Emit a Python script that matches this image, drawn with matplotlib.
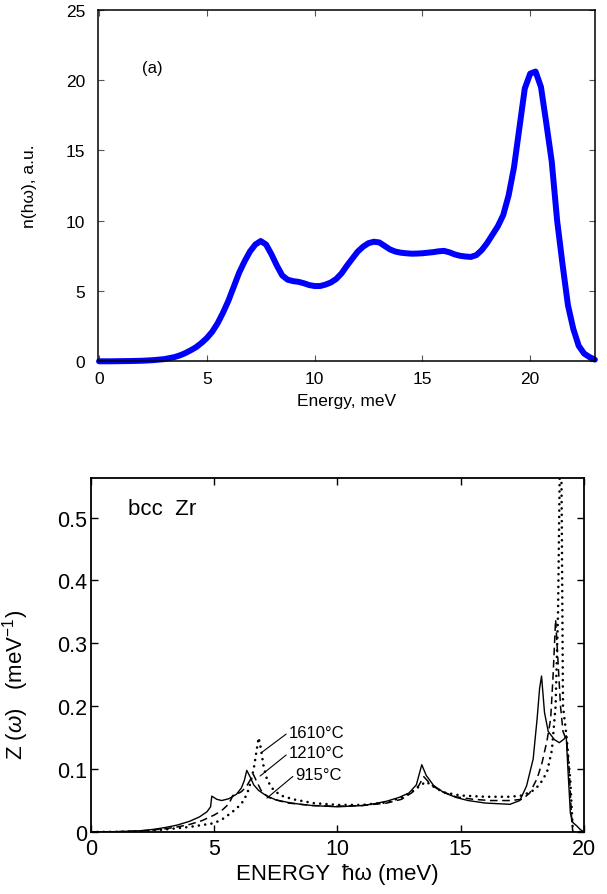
import matplotlib
matplotlib.use('Agg')
import matplotlib.pyplot as plt

plt.rcParams['font.family'] = ['Liberation Sans', 'DejaVu Sans']
plt.rcParams['mathtext.fontset'] = 'custom'
plt.rcParams['mathtext.rm'] = 'Liberation Sans'
plt.rcParams['mathtext.it'] = 'Liberation Sans:italic'

# ---- panel (a): n(hw) ----
energy_a = [0, 0.5, 1.0, 1.5, 2.0, 2.5, 3.0, 3.25, 3.5, 3.75, 4.0, 4.25, 4.5, 4.75,
            5.0, 5.25, 5.5, 5.75, 6.0, 6.25, 6.5, 6.75, 7.0, 7.25, 7.5, 7.75,
            8.0, 8.25, 8.5, 8.75, 9.0, 9.25, 9.5, 9.75, 10.0, 10.25, 10.5, 10.75,
            11.0, 11.25, 11.5, 11.75, 12.0, 12.25, 12.5, 12.75, 13.0, 13.25, 13.5,
            13.75, 14.0, 14.25, 14.5, 14.75, 15.0, 15.25, 15.5, 15.75, 16.0, 16.25,
            16.5, 16.75, 17.0, 17.25, 17.5, 17.75, 18.0, 18.25, 18.5, 18.75, 19.0,
            19.25, 19.5, 19.75, 20.0, 20.25, 20.5, 20.75, 21.0, 21.25, 21.5, 21.75,
            22.0, 22.25, 22.5, 22.75, 23.0]
n_a = [0.0, 0.0, 0.01, 0.02, 0.04, 0.08, 0.15, 0.22, 0.3, 0.42, 0.58, 0.78, 1.0, 1.3,
       1.65, 2.1, 2.7, 3.45, 4.3, 5.3, 6.3, 7.1, 7.8, 8.3, 8.55, 8.3,
       7.6, 6.8, 6.1, 5.8, 5.7, 5.65, 5.55, 5.42, 5.35, 5.35, 5.45, 5.6,
       5.85, 6.25, 6.8, 7.3, 7.8, 8.15, 8.4, 8.5, 8.45, 8.2, 7.95,
       7.8, 7.72, 7.68, 7.65, 7.66, 7.68, 7.72, 7.76, 7.82, 7.85, 7.75,
       7.6, 7.5, 7.45, 7.42, 7.55, 7.9, 8.4, 9.0, 9.6, 10.4, 11.8,
       13.8, 16.6, 19.4, 20.45, 20.6, 19.5, 16.9, 14.2, 10.0, 6.9, 4.0,
       2.3, 1.1, 0.55, 0.3, 0.12]

# ---- panel (b): Z(w) bcc Zr ----
e_915 = [0, 1, 2, 2.5, 3, 3.5, 4, 4.4, 4.7, 4.85, 4.9, 5.1, 5.3, 5.6, 5.9, 6.1, 6.22,
         6.32, 6.45, 6.6, 6.8, 7.1, 7.5, 8, 8.5, 9, 9.5, 10, 10.5, 11, 11.5, 12, 12.5,
         12.9, 13.2, 13.42, 13.6, 13.9, 14.3, 14.8, 15.3, 16, 16.5, 17, 17.4, 17.67,
         17.94, 18.1, 18.2, 18.28, 18.4, 18.55, 18.8, 19.0, 19.2, 19.28, 19.35, 19.45,
         19.55, 19.7, 19.85, 20]
z_915 = [0, 0.0005, 0.002, 0.004, 0.007, 0.011, 0.017, 0.024, 0.032, 0.04, 0.057, 0.052,
         0.05, 0.053, 0.06, 0.07, 0.082, 0.098, 0.088, 0.075, 0.066, 0.058, 0.051, 0.047,
         0.044, 0.042, 0.041, 0.04, 0.041, 0.042, 0.045, 0.049, 0.055, 0.062, 0.075, 0.107,
         0.09, 0.074, 0.063, 0.055, 0.05, 0.046, 0.045, 0.044, 0.05, 0.073, 0.116, 0.18,
         0.228, 0.248, 0.19, 0.16, 0.147, 0.142, 0.148, 0.153, 0.1, 0.03, 0.015, 0.01,
         0.004, 0.0]

e_1210 = [0, 1, 2, 3, 3.5, 4, 4.5, 5, 5.3, 5.6, 5.75, 5.9, 6.1, 6.3, 6.45, 6.58, 6.7,
          6.9, 7.2, 7.6, 8, 9, 10, 11, 12, 12.6, 13.0, 13.3, 13.5, 13.8, 14.2, 14.8,
          15.5, 16.2, 17, 17.5, 17.8, 18.1, 18.3, 18.5, 18.65, 18.75, 18.85, 18.95,
          19.05, 19.15, 19.3, 19.4, 19.5, 19.55, 20]
z_1210 = [0, 0.0003, 0.0015, 0.005, 0.008, 0.012, 0.018, 0.027, 0.034, 0.045, 0.058,
          0.06, 0.064, 0.072, 0.082, 0.092, 0.082, 0.066, 0.055, 0.05, 0.046, 0.042,
          0.041, 0.042, 0.046, 0.052, 0.062, 0.074, 0.088, 0.075, 0.065, 0.056, 0.052,
          0.05, 0.05, 0.052, 0.062, 0.085, 0.11, 0.145, 0.18, 0.25, 0.338, 0.27, 0.2,
          0.16, 0.145, 0.1, 0.02, 0.0, 0.0]

e_1610 = [0, 1, 2, 3, 4, 4.5, 5, 5.4, 5.9, 6.2, 6.4, 6.6, 6.72, 6.8, 6.88, 7.0, 7.15,
          7.4, 7.7, 8.2, 9, 10, 11, 12, 12.6, 13.0, 13.4, 13.6, 13.9, 14.3, 15, 16, 17,
          17.5, 17.9, 18.2, 18.5, 18.7, 18.85, 18.95, 19.02, 19.06, 19.1, 19.15, 19.3,
          19.45, 19.55, 20]
z_1610 = [0, 0.0003, 0.001, 0.004, 0.008, 0.011, 0.014, 0.022, 0.037, 0.05, 0.068, 0.1,
          0.13, 0.15, 0.135, 0.105, 0.082, 0.067, 0.058, 0.052, 0.046, 0.043, 0.043,
          0.047, 0.055, 0.063, 0.075, 0.08, 0.072, 0.063, 0.058, 0.056, 0.056, 0.058,
          0.065, 0.075, 0.095, 0.13, 0.2, 0.35, 0.58, 0.7, 0.5, 0.2, 0.15, 0.08, 0.0, 0.0]

labels_b = ['1610°C', '1210°C', '915°C']
label_pos = [(8.03, 0.159), (8.03, 0.126), (8.3, 0.092)]
label_tip = [(6.94, 0.127), (6.86, 0.089), (7.14, 0.054)]

fig = plt.figure(figsize=(6.07, 8.95), dpi=100)

# ===== top panel =====
ax1 = fig.add_axes([0.161, 0.5952, 0.819, 0.3929])
ax1.plot(energy_a, n_a, color='#0000ff', lw=4.3, solid_capstyle='round',
         solid_joinstyle='round', clip_on=False)
ax1.set_xlim(-0.06, 23)
ax1.set_ylim(0, 25)
ax1.set_xticks([0, 5, 10, 15, 20])
ax1.set_yticks([0, 5, 10, 15, 20, 25])
ax1.tick_params(direction='in', length=4, width=0.8, color='#555555',
                top=True, right=True, labelsize=12.5)
ax1.tick_params(axis='x', pad=7)
ax1.tick_params(axis='y', pad=9)
for s in ax1.spines.values():
    s.set_linewidth(1.1)
ax1.set_xlabel('Energy, meV', fontsize=12.5, labelpad=5)
ax1.set_ylabel('n(hω), a.u.', fontsize=12.5)
ax1.yaxis.set_label_coords(-0.122, 0.5)
ax1.text(2.46, 20.9, '(a)', fontsize=12, ha='center', va='center')

# ===== bottom panel =====
ax2 = fig.add_axes([0.150, 0.0693, 0.812, 0.3955])
ax2.plot(e_915, z_915, color='black', lw=1.0)
ax2.plot(e_1210, z_1210, color='black', lw=1.1, dashes=(5, 3))
ax2.plot(e_1610, z_1610, color='black', lw=1.9, dashes=(0.01, 2.4),
         dash_capstyle='round')
ax2.set_xlim(0, 20)
ax2.set_ylim(0, 0.563)
ax2.set_xticks([0, 5, 10, 15, 20])
ax2.set_yticks([0, 0.1, 0.2, 0.3, 0.4, 0.5])
ax2.set_yticklabels(['0', '0.1', '0.2', '0.3', '0.4', '0.5'])
ax2.tick_params(direction='in', length=5, width=1.0, top=True, right=True,
                labelsize=15.5)
ax2.tick_params(axis='x', pad=4)
ax2.tick_params(axis='y', pad=3)
for s in ax2.spines.values():
    s.set_linewidth(1.3)
ax2.set_xlabel('ENERGY  ħω (meV)', fontsize=16, labelpad=3)
ax2.set_ylabel('Z ($\\omega$)   (meV$^{-1}$)', fontsize=16)
ax2.yaxis.set_label_coords(-0.122, 0.418)
ax2.text(1.5, 0.514, 'bcc  Zr', fontsize=16, ha='left', va='center')

for txt, pos, tip in zip(labels_b, label_pos, label_tip):
    ax2.annotate(txt, xy=tip, xytext=pos, fontsize=12, ha='left', va='center',
                 arrowprops=dict(arrowstyle='-', lw=0.8, color='black',
                                 relpos=(0, 0.5), shrinkA=0, shrinkB=0))

fig.savefig('out.png', dpi=100)
